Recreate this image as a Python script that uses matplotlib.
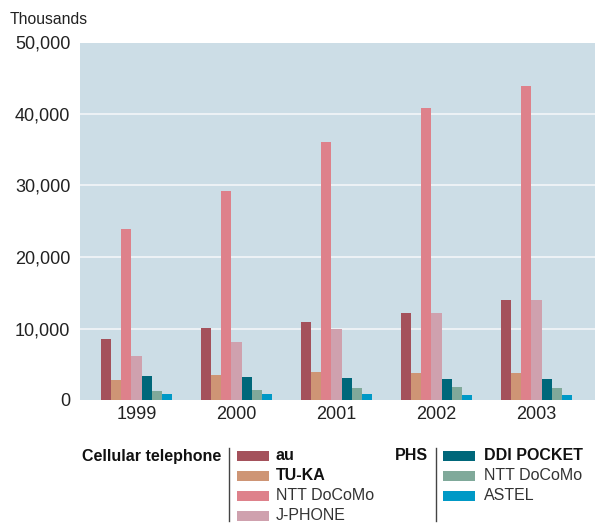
import matplotlib
matplotlib.use("Agg")
import matplotlib.pyplot as plt
from matplotlib.patches import Rectangle
from matplotlib.lines import Line2D
import numpy as np

years = ["1999", "2000", "2001", "2002", "2003"]
cell_names = ["au", "TU-KA", "NTT DoCoMo", "J-PHONE"]
phs_names = ["DDI POCKET", "NTT DoCoMo", "ASTEL"]

au = [8500, 10100, 10900, 12200, 14000]
tuka = [2800, 3500, 3900, 3800, 3800]
ntt_cell = [23900, 29300, 36100, 40800, 43900]
jphone = [6200, 8100, 9900, 12200, 14000]
ddi = [3400, 3200, 3100, 2950, 2950]
ntt_phs = [1300, 1400, 1700, 1800, 1700]
astel = [850, 850, 850, 700, 700]

series = [au, tuka, ntt_cell, jphone, ddi, ntt_phs, astel]
colors = ["#A4515B", "#CE9575", "#DE818B", "#CFA1AE", "#00677A", "#80A99A", "#0099C6"]
cell_colors = colors[:4]
phs_colors = colors[4:]
bold_cell = [True, True, False, False]
bold_phs = [True, False, False]

yticks = [0, 10000, 20000, 30000, 40000, 50000]

FONT = ["Liberation Sans Narrow", "Liberation Sans", "DejaVu Sans"]
plt.rcParams["font.family"] = FONT
TXT = "#222222"

W, H = 595, 524
fig = plt.figure(figsize=(W / 100, H / 100), dpi=100)
ax = fig.add_axes([80 / W, (H - 400) / H, 515 / W, (400 - 42.5) / H])
ax.set_facecolor("#CCDDE6")

x = np.arange(len(years))
bw = 0.101
n = len(series)
for i, (vals, c) in enumerate(zip(series, colors)):
    ax.bar(x + (i - (n - 1) / 2) * bw, vals, width=bw, color=c, zorder=3, linewidth=0)

ax.set_xlim(-0.565, 4.585)
ax.set_ylim(0, 50000)
ax.set_yticks(yticks)
ax.set_yticklabels([f"{v:,}" for v in yticks], fontsize=13, color=TXT)
ax.set_xticks(x)
ax.set_xticklabels(years, fontsize=13, color=TXT)
ax.tick_params(length=0, pad=7)
ax.tick_params(axis="x", pad=4)
for s in ax.spines.values():
    s.set_visible(False)
for v in yticks[1:-1]:
    ax.axhline(v, color="#F0F4F7", lw=1.3, zorder=1)

fig.text(10 / W, 1 - 19 / H, "Thousands", fontsize=11.3, color=TXT, va="center", ha="left")

# Legend (manual)
def fy(py):
    return 1 - py / H

row_y = [456, 476, 496, 516]
fig.text(221 / W, fy(456), "Cellular telephone", fontsize=11.5, fontweight="bold",
         color="#111111", ha="right", va="center")
fig.add_artist(Line2D([229 / W, 229 / W], [fy(448), fy(521)], color="#444444", lw=1))
for i, (name, c, b) in enumerate(zip(cell_names, cell_colors, bold_cell)):
    fig.add_artist(Rectangle((237 / W, fy(row_y[i] + 5)), 32 / W, 10 / H, color=c, lw=0))
    fig.text(276 / W, fy(row_y[i]), name, fontsize=11.5, fontweight="bold" if b else "normal",
             color="#111111" if b else "#333333", ha="left", va="center")

fig.text(428 / W, fy(456), "PHS", fontsize=11.5, fontweight="bold",
         color="#111111", ha="right", va="center")
fig.add_artist(Line2D([436 / W, 436 / W], [fy(448), fy(521)], color="#444444", lw=1))
for i, (name, c, b) in enumerate(zip(phs_names, phs_colors, bold_phs)):
    fig.add_artist(Rectangle((443 / W, fy(row_y[i] + 5)), 32 / W, 10 / H, color=c, lw=0))
    fig.text(484 / W, fy(row_y[i]), name, fontsize=11.5, fontweight="bold" if b else "normal",
             color="#111111" if b else "#333333", ha="left", va="center")

fig.savefig("out.png", dpi=100)
